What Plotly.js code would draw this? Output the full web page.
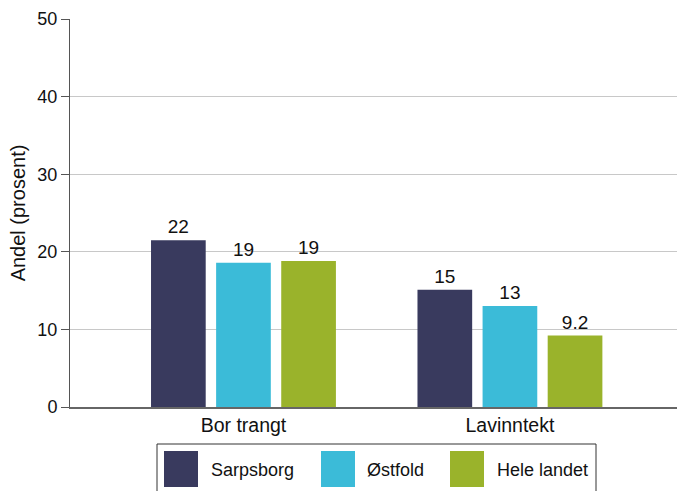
<!DOCTYPE html>
<html>
<head>
<meta charset="utf-8">
<script src="https://cdn.plot.ly/plotly-3.0.1.min.js"></script>
<style>html,body{margin:0;padding:0;background:#fff;}#chart{width:677px;height:491px;}</style>
</head>
<body>
<div id="chart"></div>
<script>
const categories = ["Bor trangt", "Lavinntekt"];
const seriesNames = ["Sarpsborg", "Østfold", "Hele landet"];
const sarpsborg = [21.5, 15.1];
const ostfold = [18.6, 13.0];
const heleLandet = [18.8, 9.2];
const sarpsborgLabels = ["22", "15"];
const ostfoldLabels = ["19", "13"];
const heleLandetLabels = ["19", "9.2"];
const yTicks = [0, 10, 20, 30, 40, 50];
const colors = ["#393a5e", "#3bbbd8", "#9ab32b"];

const values = [sarpsborg, ostfold, heleLandet];
const labels = [sarpsborgLabels, ostfoldLabels, heleLandetLabels];
const FONT = "'Liberation Sans', Arial, sans-serif";

const traces = seriesNames.map((name, i) => ({
  type: "bar",
  name: name,
  x: categories,
  y: values[i],
  text: labels[i],
  textposition: "outside",
  cliponaxis: false,
  textfont: {family: FONT, size: 19, color: "#111"},
  marker: {color: colors[i], line: {width: 0}},
  hoverinfo: "none",
  showlegend: false
}));

// custom legend (box, swatches, names) in paper coordinates
const L = 70, W = 607, T = 19, H = 388;
const px = v => (v - L) / W;
const py = v => (T + H - v) / H;
const swatchX = [164, 321, 450];
const textX = [209, 365, 495];
const shapes = [{
  type: "rect", xref: "paper", yref: "paper",
  x0: px(157), x1: px(596), y0: py(505), y1: py(444),
  line: {color: "#333", width: 1}, fillcolor: "rgba(0,0,0,0)"
}];
const annotations = [];
seriesNames.forEach((name, i) => {
  shapes.push({
    type: "rect", xref: "paper", yref: "paper",
    x0: px(swatchX[i]), x1: px(swatchX[i] + 34), y0: py(487), y1: py(451),
    line: {width: 0}, fillcolor: colors[i]
  });
  annotations.push({
    xref: "paper", yref: "paper", x: px(textX[i]), y: py(470),
    xanchor: "left", yanchor: "middle", showarrow: false,
    text: name, font: {family: FONT, size: 18, color: "#111"}
  });
});

const layout = {
  width: 677, height: 491,
  margin: {l: 70, r: 0, t: 19, b: 84, pad: 0},
  paper_bgcolor: "#fff", plot_bgcolor: "#fff",
  font: {family: FONT, size: 18, color: "#111"},
  barmode: "group",
  bargap: 0.267,
  bargroupgap: 0.16,
  showlegend: false,
  xaxis: {
    type: "category",
    range: [-0.651, 1.627],
    showgrid: false,
    showline: true, linecolor: "#666", linewidth: 1.5,
    ticks: "", tickfont: {family: FONT, size: 19.5, color: "#111"},
    fixedrange: true
  },
  yaxis: {
    range: [0, 50],
    tickvals: yTicks,
    ticktext: yTicks.map(String),
    showgrid: true, gridcolor: "#c8c8c8", gridwidth: 1,
    zeroline: false,
    showline: true, linecolor: "#555", linewidth: 1,
    ticks: "outside", ticklen: 8, tickcolor: "#555",
    tickfont: {family: FONT, size: 18, color: "#111"},
    title: {text: "Andel (prosent)", font: {family: FONT, size: 20, color: "#111"}, standoff: 6},
    fixedrange: true
  },
  shapes: shapes,
  annotations: annotations
};

Plotly.newPlot("chart", traces, layout, {displayModeBar: false, staticPlot: true});
</script>
</body>
</html>
